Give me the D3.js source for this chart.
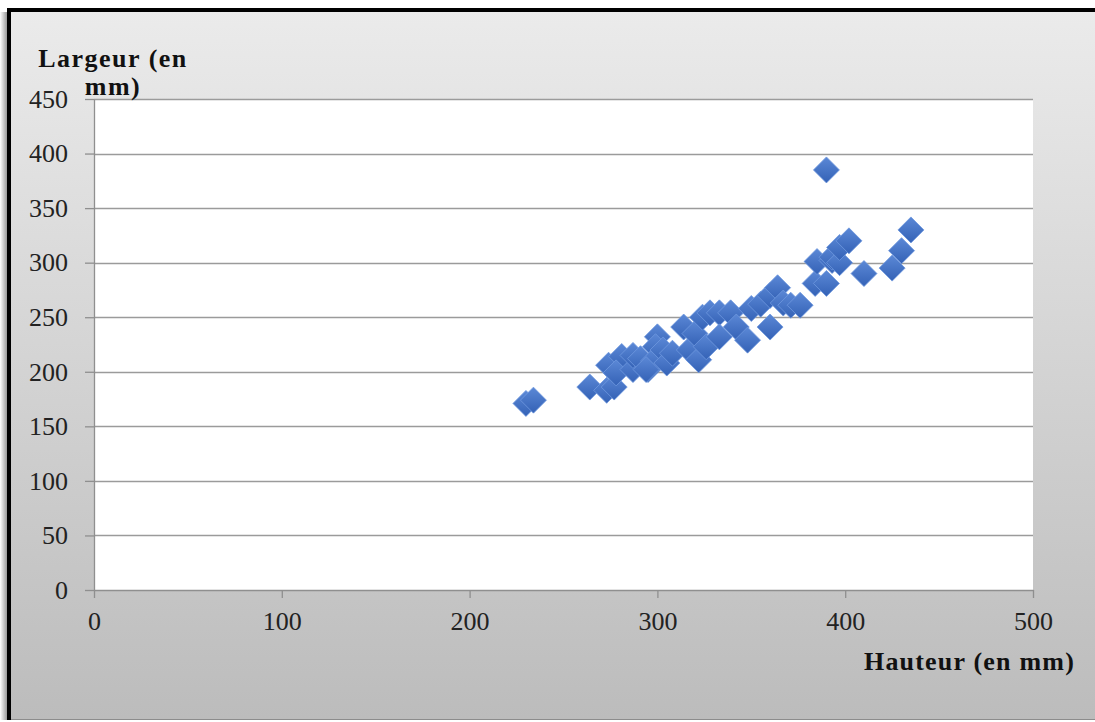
<!DOCTYPE html>
<html><head><meta charset="utf-8">
<script src="https://cdn.jsdelivr.net/npm/d3@7"></script>
<style>body{margin:0;background:#fff}svg{display:block}</style>
</head><body>
<svg id="c" width="1095" height="722"></svg>
<script>
const hauteur = [230,234,264,273,277,274,281,278,287,287,291,295,300,299,298,294,303,305,308,317,314,320,322,324,326,328,333,333,339,342,348,350,355,360,360,364,367,371,376,384,385,390,393,393,397,397,402,390,410,425,430,435];
const largeur = [171,174,186,183,186,206,214,199,202,215,212,202,232,223,210,202,220,208,217,220,241,235,211,250,223,254,254,232,254,241,229,258,262,270,241,277,263,261,261,281,301,281,302,305,300,314,320,385,290,295,311,330];
const xTicks = [0,100,200,300,400,500];
const yTicks = [0,50,100,150,200,250,300,350,400,450];
const xTitle = "Hauteur (en mm)";
const yTitleLines = ["Largeur (en","mm)"];

const svg = d3.select("#c");
const W = 1095, H = 722;
const defs = svg.append("defs");
const bg = defs.append("linearGradient").attr("id","bg").attr("x1",0).attr("y1",0).attr("x2",0).attr("y2",1);
bg.append("stop").attr("offset","0%").attr("stop-color","#ebebeb");
bg.append("stop").attr("offset","100%").attr("stop-color","#bcbcbc");
const sh = defs.append("linearGradient").attr("id","sh").attr("x1",0).attr("y1",0).attr("x2",1).attr("y2",0);
sh.append("stop").attr("offset","0%").attr("stop-color","#ffffff");
sh.append("stop").attr("offset","100%").attr("stop-color","#8a8a8a");
const mk = defs.append("linearGradient").attr("id","mk").attr("x1",0).attr("y1",0).attr("x2",0).attr("y2",1);
mk.append("stop").attr("offset","0%").attr("stop-color","#5b88d6");
mk.append("stop").attr("offset","100%").attr("stop-color","#3462b6");

// chart background and frame
svg.append("rect").attr("x",0).attr("y",0).attr("width",W).attr("height",H).attr("fill","#ffffff");
svg.append("rect").attr("x",0).attr("y",12).attr("width",8).attr("height",708).attr("fill","url(#sh)");
svg.append("rect").attr("x",9).attr("y",10).attr("width",W-9).attr("height",709).attr("fill","url(#bg)");
svg.append("line").attr("x1",9).attr("x2",W).attr("y1",10).attr("y2",10).attr("stroke","#000").attr("stroke-width",4);
svg.append("line").attr("x1",9).attr("x2",9).attr("y1",8).attr("y2",720).attr("stroke","#000").attr("stroke-width",4);
svg.append("line").attr("x1",11).attr("x2",W).attr("y1",719.5).attr("y2",719.5).attr("stroke","#8c8c8c").attr("stroke-width",1);

const x = d3.scaleLinear().domain([0,500]).range([94,1033]);
const y = d3.scaleLinear().domain([0,450]).range([590,99]);

svg.append("rect").attr("x",x(0)).attr("y",y(450)).attr("width",x(500)-x(0)).attr("height",y(0)-y(450)).attr("fill","#ffffff");

// gridlines
svg.append("g").selectAll("line").data(yTicks.filter(d=>d>0)).join("line")
  .attr("x1",x(0)).attr("x2",x(500)).attr("y1",d=>Math.round(y(d))+0.5).attr("y2",d=>Math.round(y(d))+0.5)
  .attr("stroke","#9b9b9b").attr("stroke-width",1.3);

const font = "'Liberation Serif','Times New Roman',serif";
const yAxis = svg.append("g").attr("transform",`translate(${x(0)},0)`)
  .call(d3.axisLeft(y).tickValues(yTicks).tickSize(9).tickPadding(17).tickSizeOuter(0));
const xAxis = svg.append("g").attr("transform",`translate(0,${y(0)})`)
  .call(d3.axisBottom(x).tickValues(xTicks).tickSize(8).tickPadding(14).tickSizeOuter(0));
[yAxis,xAxis].forEach(g=>{
  g.select(".domain").attr("stroke","#8f8f8f").attr("stroke-width",1.3);
  g.selectAll(".tick line").attr("stroke","#8f8f8f").attr("stroke-width",1.3);
  g.selectAll("text").attr("fill","#222").style("font-family",font).style("font-size","26px");
});

// markers
const pts = hauteur.map((h,i)=>({h, l: largeur[i]}));
const r = 13;
svg.append("g").selectAll("path").data(pts).join("path")
  .attr("transform",d=>`translate(${x(d.h)},${y(d.l)})`)
  .attr("d",`M0,${-r}L${r},0L0,${r}L${-r},0Z`)
  .attr("fill","url(#mk)").attr("stroke","#6e98de").attr("stroke-width",0.8);

// axis titles
const yt = svg.append("text").attr("text-anchor","middle").style("font-family",font)
  .style("font-size","26px").style("font-weight","bold").style("letter-spacing","1.5px").attr("fill","#111");
yTitleLines.forEach((t,i)=>yt.append("tspan").attr("x",113).attr("y",67+i*28).text(t));
svg.append("text").attr("x",1075).attr("y",670).attr("text-anchor","end").style("font-family",font)
  .style("font-size","26px").style("font-weight","bold").style("letter-spacing","1.2px").attr("fill","#111").text(xTitle);
</script>
</body></html>
